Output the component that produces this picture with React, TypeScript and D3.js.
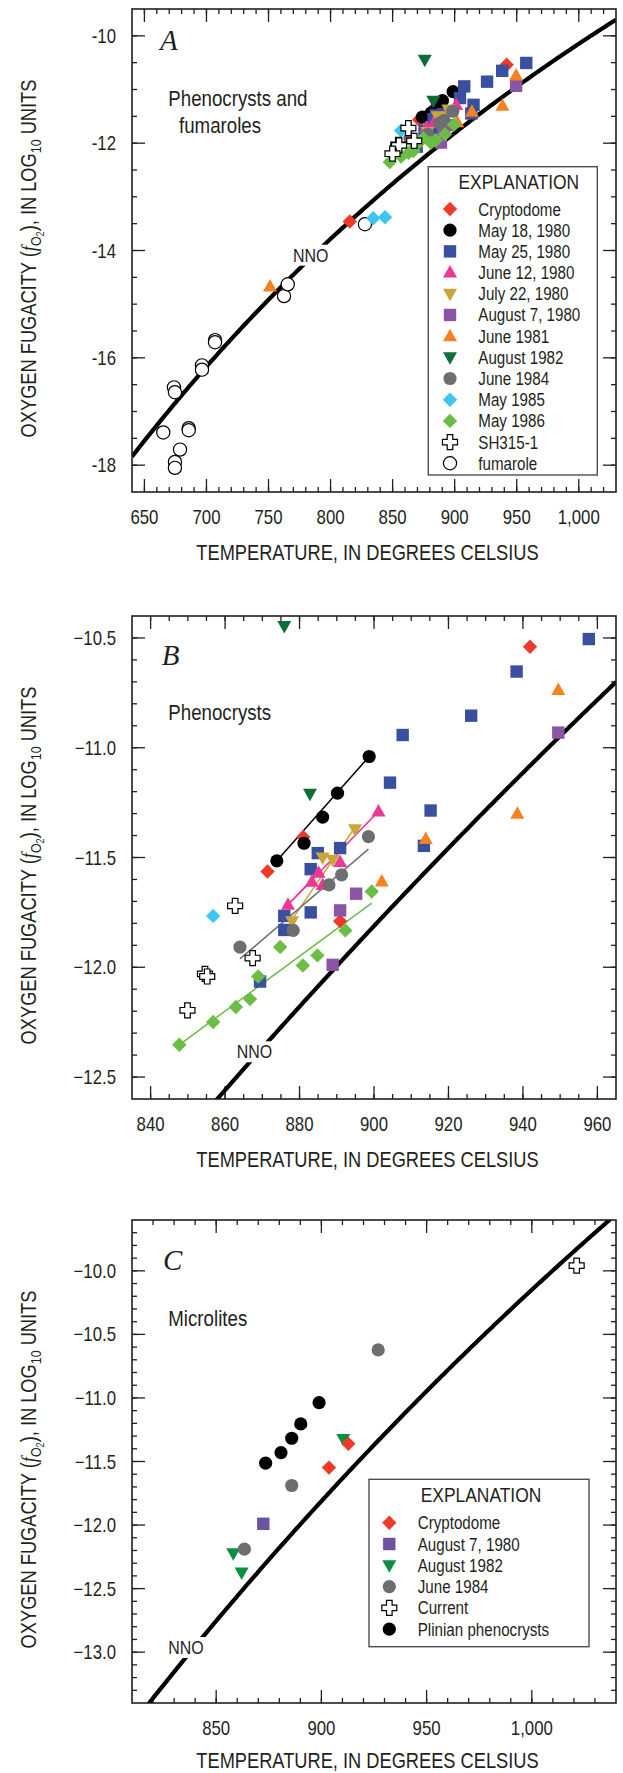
import React from 'react';
import * as d3 from 'd3';

type P = [number, number]; // [temperature °C, log10 fO2]

// ---------- Phenocryst data (panels A and B) ----------
const cryptodome: P[] = [[871.4, -11.564], [881.0, -11.407], [890.9, -11.79], [941.9, -10.54]];
const may18: P[] = [[873.9, -11.515], [881.2, -11.435], [886.2, -11.316], [890.2, -11.207], [898.7, -11.04]];
const may25: P[] = [[884.9, -11.48], [883.0, -11.553], [890.9, -11.457], [875.9, -11.766], [875.9, -11.83], [883.0, -11.75], [869.4, -12.065], [907.7, -10.942], [904.3, -11.159], [926.1, -10.854], [938.3, -10.653], [957.7, -10.505], [915.2, -11.286], [913.4, -11.447]];
const june12: P[] = [[876.9, -11.715], [883.3, -11.61], [885.1, -11.57], [886.2, -11.625], [890.9, -11.52], [901.2, -11.29]];
const july22: P[] = [[878.0, -11.79], [886.2, -11.5], [888.9, -11.51], [894.9, -11.371]];
const aug7: P[] = [[895.2, -11.665], [890.9, -11.741], [888.9, -11.989], [949.5, -10.931]];
const june1981: P[] = [[949.5, -10.737], [938.5, -11.301], [913.9, -11.416], [902.1, -11.609]];
const aug1982: P[] = [[875.9, -10.445], [882.8, -11.21]];
const june1984: P[] = [[864.0, -11.908], [878.3, -11.832], [887.9, -11.625], [891.3, -11.579], [898.5, -11.405]];
const may1985: P[] = [[856.8, -11.766]];
const may1986: P[] = [[847.7, -12.353], [856.8, -12.249], [862.9, -12.181], [866.7, -12.145], [868.9, -12.042], [874.8, -11.908], [880.9, -11.992], [884.8, -11.946], [892.3, -11.832], [899.4, -11.655]];
const sh315: P[] = [[862.7, -11.72], [867.4, -11.958], [854.6, -12.03], [855.2, -12.042], [849.9, -12.196]];

// extra points only visible in panel A
const cryptodomeLow: P[] = [[815.5, -13.46]];
const may1985Low: P[] = [[834.4, -13.40], [843.9, -13.38]];
const june1981Low: P[] = [[751.2, -14.67]];
const fumarole: P[] = [[665.2, -17.39], [673.8, -16.55], [674.6, -16.64], [674.6, -17.94], [674.6, -18.05], [678.7, -17.71], [685.7, -17.31], [685.7, -17.35], [696.4, -16.14], [696.4, -16.22], [706.9, -15.67], [706.9, -15.71], [762.5, -14.85], [765.5, -14.63], [827.7, -13.51]];

// trend lines in panel B
const trendMay18: P[] = [[873.9, -11.515], [898.7, -11.04]];
const trendJuly22: P[] = [[877.7, -11.79], [894.6, -11.37]];
const trendJune12a: P[] = [[876.9, -11.715], [901.2, -11.29]];
const trendJune12b: P[] = [[876.9, -11.715], [885.1, -11.57]];
const trendJune1984: P[] = [[864.0, -11.962], [898.5, -11.462]];
const trendMay1986: P[] = [[847.7, -12.353], [899.4, -11.708]];

// ---------- Microlite data (panel C) ----------
const plinian: P[] = [[873.5, -11.513], [880.8, -11.43], [885.9, -11.317], [890.2, -11.204], [898.9, -11.037]];
const cryptodomeC: P[] = [[903.6, -11.548], [912.8, -11.361]];
const aug7C: P[] = [[872.4, -11.99]];
const aug1982C: P[] = [[910.4, -11.322], [858.1, -12.221], [862.1, -12.373]];
const june1984C: P[] = [[885.9, -11.689], [863.4, -12.19], [927.0, -10.622]];
const currentC: P[] = [[1021.3, -9.959]];

// legend labels
const legendA = ['Cryptodome', 'May 18, 1980', 'May 25, 1980', 'June 12, 1980', 'July 22, 1980', 'August 7, 1980', 'June 1981', 'August 1982', 'June 1984', 'May 1985', 'May 1986', 'SH315-1', 'fumarole'];
const legendC = ['Cryptodome', 'August 7, 1980', 'August 1982', 'June 1984', 'Current', 'Plinian phenocrysts'];

// NNO buffer (Huebner & Sato, ~2 kbar)
const nno = (t: number) => 9.36 - 24838 / (t + 273.15);

const FONT = "'Liberation Sans', Arial, Helvetica, sans-serif";
const SERIF = "'Liberation Serif', 'Times New Roman', serif";
const INK = '#231f20';
const FL = 132, FW = 484, FH = 483;

type Sty = { shape: string; fill: string; stroke?: string };
const S: Record<string, Sty> = {
  cryptodome: { shape: 'diamond', fill: '#ee3a2a' },
  may18: { shape: 'circle', fill: '#000000' },
  may25: { shape: 'square', fill: '#3a4f9f' },
  june12: { shape: 'triUp', fill: '#ec3894' },
  july22: { shape: 'triDown', fill: '#c9a63a' },
  aug7: { shape: 'square', fill: '#8a55a3' },
  june1981: { shape: 'triUp', fill: '#f58220' },
  aug1982: { shape: 'triDown', fill: '#0f6d3a' },
  june1984: { shape: 'circle', fill: '#6d6e71' },
  may1985: { shape: 'diamond', fill: '#3cc6f0' },
  may1986: { shape: 'diamond', fill: '#6cbd45' },
  sh315: { shape: 'cross', fill: '#ffffff', stroke: '#000' },
  fumarole: { shape: 'circle', fill: '#ffffff', stroke: '#000' },
  aug7C: { shape: 'square', fill: '#6b52a3' },
  aug1982C: { shape: 'triDown', fill: '#0b8f45' },
};

function shapePath(shape: string): string {
  switch (shape) {
    case 'circle': { const r = 6.6; return `M${-r},0a${r},${r} 0 1,0 ${2 * r},0a${r},${r} 0 1,0 ${-2 * r},0Z`; }
    case 'square': { const h = 6.2; return `M${-h},${-h}H${h}V${h}H${-h}Z`; }
    case 'diamond': { const h = 7.2; return `M0,${-h}L${h},0L0,${h}L${-h},0Z`; }
    case 'triUp': return 'M0,-7.5L7,5L-7,5Z';
    case 'triDown': return 'M0,7.5L7,-5L-7,-5Z';
    case 'cross': { const a = 2.8, b = 7.5; return `M${-a},${-b}H${a}V${-a}H${b}V${a}H${a}V${b}H${-a}V${a}H${-b}V${-a}H${-a}Z`; }
  }
  return '';
}

function Mk({ x, y, sty }: { x: number; y: number; sty: Sty }) {
  return <path d={shapePath(sty.shape)} transform={`translate(${x},${y})`} fill={sty.fill}
    stroke={sty.stroke || 'none'} strokeWidth={sty.stroke ? 1.2 : 0} />;
}

function NText({ x, y, size, sx = 0.83, anchor = 'start', rotate = false, children }: any) {
  return (
    <text transform={`translate(${x},${y})${rotate ? ' rotate(-90)' : ''} scale(${sx},1)`}
      fontSize={size} textAnchor={anchor} fontFamily={FONT} fill={INK}>{children}</text>
  );
}

type Sc = { x: d3.ScaleLinear<number, number>; y: d3.ScaleLinear<number, number> };

function Series({ data, sty, sc }: { data: P[]; sty: Sty; sc: Sc }) {
  return <g>{data.map((d, i) => <Mk key={i} x={sc.x(d[0])} y={sc.y(d[1])} sty={sty} />)}</g>;
}

function Trend({ data, color, sc }: { data: P[]; color: string; sc: Sc }) {
  const line = d3.line<P>().x(d => sc.x(d[0])).y(d => sc.y(d[1]));
  return <path d={line(data) || ''} fill="none" stroke={color} strokeWidth={1.5} />;
}

function Panel({ id, top, xDomain, yDomain, xMajor, xMinor, yMajor, yMinor, yFmt, letter, note, nnoLabel, titleOffset = 68, children }: any) {
  const x = d3.scaleLinear().domain(xDomain).range([FL, FL + FW]);
  const y = d3.scaleLinear().domain(yDomain).range([top + FH, top]);
  const sc = { x, y };
  const bottom = top + FH, right = FL + FW;
  const xf = d3.format(',');
  const inside = (v: number, d: number[]) => v > d[0] + 1e-6 && v < d[1] - 1e-6;
  const nnoPts = d3.range(xDomain[0], xDomain[1] + 0.01, (xDomain[1] - xDomain[0]) / 200).map(t => [t, nno(t)] as P);
  const nnoLine = d3.line<P>().x(d => x(d[0])).y(d => y(d[1]));
  return (
    <g>
      <defs>
        <clipPath id={`clip${id}`}><rect x={FL} y={top} width={FW} height={FH} /></clipPath>
      </defs>
      <g stroke={INK} strokeWidth={1.3}>
        {xMinor.filter((t: number) => inside(t, xDomain)).map((t: number) => (
          <g key={'xm' + t}>
            <line x1={x(t)} x2={x(t)} y1={bottom} y2={bottom - 5} />
            <line x1={x(t)} x2={x(t)} y1={top} y2={top + 5} />
          </g>))}
        {xMajor.map((t: number) => (
          <g key={'xM' + t}>
            <line x1={x(t)} x2={x(t)} y1={bottom} y2={bottom - 13} />
            <line x1={x(t)} x2={x(t)} y1={top} y2={top + 13} />
          </g>))}
        {yMinor.filter((t: number) => inside(t, yDomain)).map((t: number) => (
          <g key={'ym' + t}>
            <line x1={FL} x2={FL + 5} y1={y(t)} y2={y(t)} />
            <line x1={right} x2={right - 5} y1={y(t)} y2={y(t)} />
          </g>))}
        {yMajor.map((t: number) => (
          <g key={'yM' + t}>
            <line x1={FL} x2={FL + 13} y1={y(t)} y2={y(t)} />
            <line x1={right} x2={right - 13} y1={y(t)} y2={y(t)} />
          </g>))}
      </g>
      {xMajor.map((t: number) => (
        <NText key={'xl' + t} x={x(t)} y={bottom + 31.5} size={20} sx={0.84} anchor="middle">{xf(t)}</NText>
      ))}
      {yMajor.map((t: number) => (
        <NText key={'yl' + t} x={116} y={y(t) + 7} size={20} sx={0.84} anchor="end">{yFmt(t)}</NText>
      ))}
      <NText x={367.5} y={bottom + titleOffset} size={22} sx={0.83} anchor="middle">TEMPERATURE, IN DEGREES CELSIUS</NText>
      <NText x={36} y={top + FH / 2 + 8} size={22} sx={0.83} anchor="middle" rotate>
        OXYGEN FUGACITY (<tspan fontFamily={SERIF} fontStyle="italic">f</tspan>
        <tspan dy={5} fontSize={15}>O</tspan><tspan dy={3} fontSize={11}>2</tspan>
        <tspan dy={-8}>), IN LOG</tspan><tspan dy={5} fontSize={15}>10</tspan><tspan dy={-5}> UNITS</tspan>
      </NText>
      <g clipPath={`url(#clip${id})`}>
        <path d={nnoLine(nnoPts) || ''} fill="none" stroke="#000" strokeWidth={4.2} />
      </g>
      <rect x={nnoLabel.x - 3} y={nnoLabel.y - 17} width={42} height={21} fill="#fff" />
      <NText x={nnoLabel.x} y={nnoLabel.y} size={19} sx={0.84}>NNO</NText>
      <text x={letter.x} y={letter.y} fontFamily={SERIF} fontStyle="italic" fontSize={29} fill={INK}>{letter.t}</text>
      {note.map((n: any, i: number) => <NText key={i} x={n.x} y={n.y} size={22} sx={0.85}>{n.t}</NText>)}
      {children(sc)}
      <rect x={FL} y={top} width={FW} height={FH} fill="none" stroke={INK} strokeWidth={1.6} />
    </g>
  );
}

function Legend({ x, y, w, h, titleX, titleY, symX, textX, row0, dy, items }: any) {
  return (
    <g>
      <rect x={x} y={y} width={w} height={h} fill="#fff" stroke="#4d4d4f" strokeWidth={1.4} />
      <NText x={titleX} y={titleY} size={21} sx={0.83} anchor="middle">EXPLANATION</NText>
      {items.map((it: any, i: number) => (
        <g key={i}>
          <Mk x={symX} y={row0 + i * dy} sty={it.sty} />
          <NText x={textX} y={row0 + i * dy + 6.5} size={18.5} sx={0.82}>{it.label}</NText>
        </g>
      ))}
    </g>
  );
}

export default function App() {
  const stylesA = [S.cryptodome, S.may18, S.may25, S.june12, S.july22, S.aug7, S.june1981, S.aug1982, S.june1984, S.may1985, S.may1986, S.sh315, S.fumarole];
  const stylesC = [S.cryptodome, S.aug7C, S.aug1982C, S.june1984, S.sh315, S.may18];
  const pheno = (sc: Sc) => (
    <g>
      <Series data={cryptodome} sty={S.cryptodome} sc={sc} />
      <Series data={may18} sty={S.may18} sc={sc} />
      <Series data={may25} sty={S.may25} sc={sc} />
      <Series data={june12} sty={S.june12} sc={sc} />
      <Series data={july22} sty={S.july22} sc={sc} />
      <Series data={aug7} sty={S.aug7} sc={sc} />
      <Series data={june1981} sty={S.june1981} sc={sc} />
      <Series data={aug1982} sty={S.aug1982} sc={sc} />
      <Series data={june1984} sty={S.june1984} sc={sc} />
      <Series data={may1985} sty={S.may1985} sc={sc} />
      <Series data={may1986} sty={S.may1986} sc={sc} />
      <Series data={sh315} sty={S.sh315} sc={sc} />
    </g>
  );
  return (
    <svg width={623} height={1773} style={{ position: 'absolute', left: 0, top: 0, background: '#fff' }}>
      <rect width={623} height={1773} fill="#fff" />
      <Panel id="A" top={9} xDomain={[640, 1030]} yDomain={[-18.5, -9.5]}
        xMajor={d3.range(650, 1001, 50)} xMinor={d3.range(640, 1031, 10)}
        yMajor={[-18, -16, -14, -12, -10]} yMinor={d3.range(-18.5, -9.49, 0.5)}
        yFmt={(v: number) => String(v)}
        letter={{ t: 'A', x: 160, y: 50 }}
        note={[{ t: 'Phenocrysts and', x: 168.3, y: 106 }, { t: 'fumaroles', x: 179, y: 133.3 }]}
        nnoLabel={{ x: 293, y: 261.7 }}>
        {(sc: Sc) => (
          <g>
            <Series data={fumarole} sty={S.fumarole} sc={sc} />
            <Series data={cryptodomeLow} sty={S.cryptodome} sc={sc} />
            <Series data={may1985Low} sty={S.may1985} sc={sc} />
            <Series data={june1981Low} sty={S.june1981} sc={sc} />
            {pheno(sc)}
            <Legend x={428.3} y={166.7} w={169} h={308.3} titleX={518.8} titleY={189.3} symX={450} textX={478.3}
              row0={209} dy={21.19} items={legendA.map((l, i) => ({ label: l, sty: stylesA[i] }))} />
          </g>
        )}
      </Panel>
      <Panel id="B" top={616} xDomain={[835, 965]} yDomain={[-12.6, -10.4]}
        xMajor={d3.range(840, 961, 20)} xMinor={d3.range(835, 965.1, 5)}
        yMajor={[-12.5, -12, -11.5, -11, -10.5]} yMinor={d3.range(-12.6, -10.39, 0.1).map(v => Math.round(v * 10) / 10)}
        yFmt={d3.format('.1f')}
        letter={{ t: 'B', x: 161.7, y: 665 }}
        note={[{ t: 'Phenocrysts', x: 168.3, y: 720 }]}
        nnoLabel={{ x: 236.7, y: 1058.3 }}>
        {(sc: Sc) => (
          <g>
            <Trend data={trendMay18} color="#000" sc={sc} />
            <Trend data={trendJuly22} color="#c9a63a" sc={sc} />
            <Trend data={trendJune12a} color="#ec3894" sc={sc} />
            <Trend data={trendJune12b} color="#ec3894" sc={sc} />
            <Trend data={trendJune1984} color="#6d6e71" sc={sc} />
            <Trend data={trendMay1986} color="#6cbd45" sc={sc} />
            {pheno(sc)}
          </g>
        )}
      </Panel>
      <Panel id="C" top={1220} xDomain={[810, 1040]} yDomain={[-13.4, -9.6]}
        xMajor={d3.range(850, 1001, 50)} xMinor={d3.range(810, 1040.1, 10)}
        yMajor={[-13, -12.5, -12, -11.5, -11, -10.5, -10]} yMinor={d3.range(-13.4, -9.59, 0.1).map(v => Math.round(v * 10) / 10)}
        yFmt={d3.format('.1f')}
        letter={{ t: 'C', x: 163, y: 1270 }}
        note={[{ t: 'Microlites', x: 168.3, y: 1326 }]}
        nnoLabel={{ x: 168.3, y: 1654 }}
        titleOffset={64.5}>
        {(sc: Sc) => (
          <g>
            <Series data={plinian} sty={S.may18} sc={sc} />
            <Series data={aug1982C} sty={S.aug1982C} sc={sc} />
            <Series data={cryptodomeC} sty={S.cryptodome} sc={sc} />
            <Series data={june1984C} sty={S.june1984} sc={sc} />
            <Series data={aug7C} sty={S.aug7C} sc={sc} />
            <Series data={currentC} sty={S.sh315} sc={sc} />
            <Legend x={369} y={1479.3} w={220} h={167.4} titleX={481} titleY={1501.7} symX={389.3} textX={417.7}
              row0={1522.7} dy={21.3} items={legendC.map((l, i) => ({ label: l, sty: stylesC[i] }))} />
          </g>
        )}
      </Panel>
    </svg>
  );
}
